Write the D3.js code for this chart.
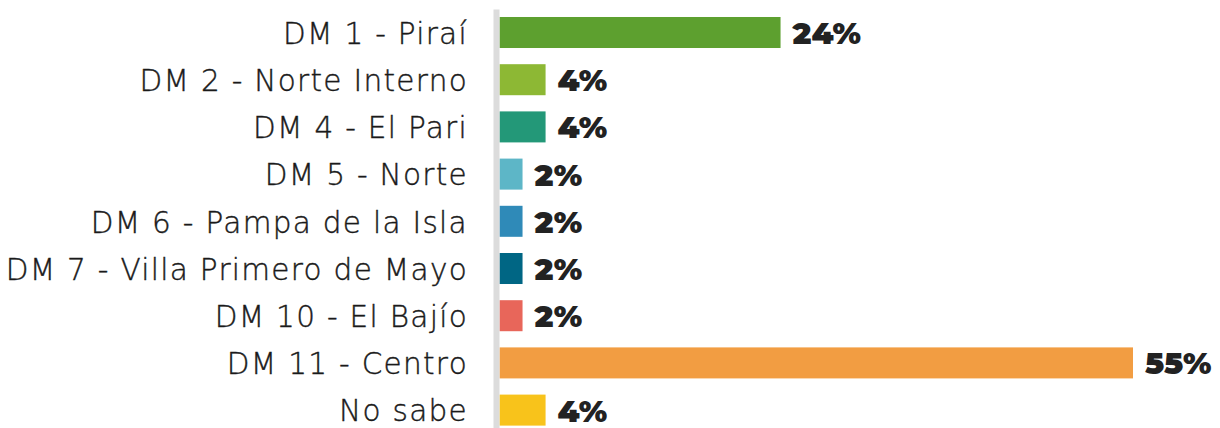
<!DOCTYPE html>
<html>
<head>
<meta charset="utf-8">
<script src="https://cdn.jsdelivr.net/npm/d3@7"></script>
<style>
  body { margin: 0; background: #fff; }
  .cat text { font-family: "DejaVu Sans", sans-serif; font-weight: 200; font-size: 29.5px; letter-spacing: 1.3px; fill: #1a1a1a; stroke: #1a1a1a; stroke-width: 0.4px; }
  .val { font-family: "Montserrat", "Roboto", sans-serif; font-weight: 900; font-size: 31px; fill: #222; }
</style>
</head>
<body>
<svg width="1220" height="428"></svg>
<script>
const categories = [
  'DM 1 - Piraí', 'DM 2 - Norte Interno', 'DM 4 - El Pari', 'DM 5 - Norte',
  'DM 6 - Pampa de la Isla', 'DM 7 - Villa Primero de Mayo', 'DM 10 - El Bajío',
  'DM 11 - Centro', 'No sabe'
]
const values = [24.4, 4, 4, 2, 2, 2, 2, 55, 4]
const colors = ['#5da02f', '#8db834', '#239878', '#5db6c7', '#2f8ab8', '#006684', '#e8665a', '#f29d42', '#f8c31b']

const data = categories.map((c, i) => ({ cat: c, value: values[i], color: colors[i] }))

const svg = d3.select('svg')
const x0 = 499.5

const xScale = d3.scaleLinear()
  .domain([0, 55])
  .range([x0, 1133])

const yScale = d3.scaleBand()
  .domain(categories)
  .range([9, 428])
  .paddingInner(0.343)
  .paddingOuter(0.11)
  .align(0.77)

// bars
svg.selectAll('.bar')
  .data(data)
  .enter()
  .append('rect')
  .classed('bar', true)
  .attr('x', xScale(0))
  .attr('y', d => yScale(d.cat))
  .attr('width', d => xScale(d.value) - xScale(0))
  .attr('height', yScale.bandwidth())
  .attr('fill', d => d.color)

// category axis
const yAxis = d3.axisLeft(yScale)
  .tickSize(0)
  .tickSizeOuter(0)
  .tickPadding(28)

const yAxisG = svg.append('g')
  .classed('cat', true)
  .attr('transform', `translate(${x0 - 3.5},0)`)
  .call(yAxis)

yAxisG.select('.domain')
  .attr('stroke', '#dcdcdc')
  .attr('stroke-width', 6)

yAxisG.selectAll('.tick text').attr('dy', '0.38em')

// value labels
svg.selectAll('.val')
  .data(data)
  .enter()
  .append('text')
  .classed('val', true)
  .attr('x', d => xScale(d.value) + 12)
  .attr('y', d => yScale(d.cat) + yScale.bandwidth() / 2)
  .attr('dy', '0.37em')
  .text(d => Math.round(d.value) + '%')
</script>
</body>
</html>
